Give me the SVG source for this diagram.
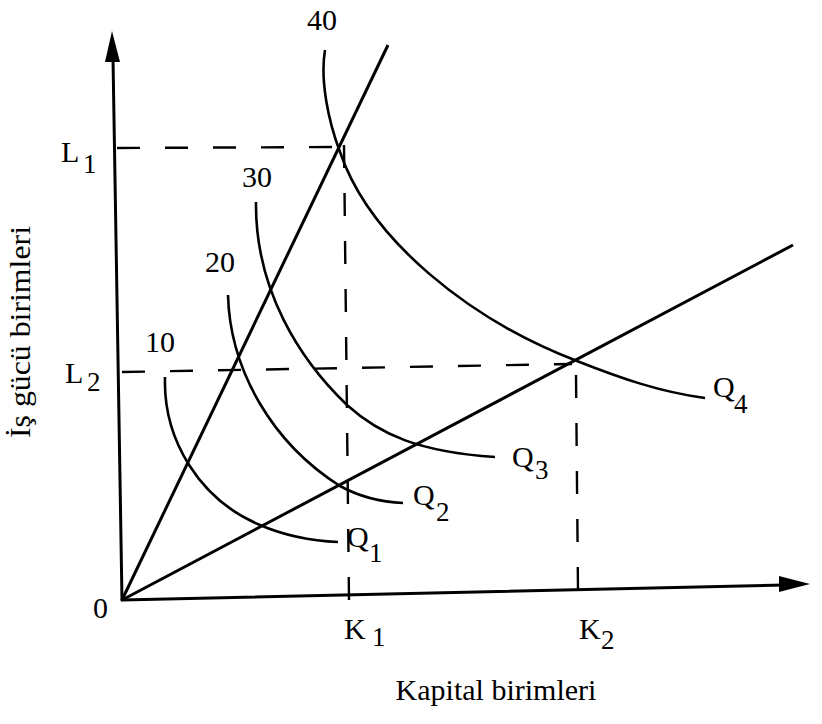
<svg xmlns="http://www.w3.org/2000/svg" width="822" height="724" viewBox="0 0 822 724">
<style>
.ax{stroke:#000;stroke-width:3;fill:none;stroke-linecap:round}
.ray{stroke:#000;stroke-width:3;fill:none}
.cv{stroke:#000;stroke-width:2.6;fill:none}
.dash{stroke:#000;stroke-width:2.4;fill:none;stroke-dasharray:23 25}
.t{font-family:"Liberation Serif","Times New Roman",serif;fill:#000;font-size:30px}
.s{font-family:"Liberation Serif","Times New Roman",serif;fill:#000;font-size:27px}
</style>
<rect width="822" height="724" fill="#fff"/>
<g id="axes">
<line class="ax" x1="122" y1="600" x2="113" y2="58"/>
<polygon points="112,31 105,62 120,62" fill="#000"/>
<line class="ax" x1="122" y1="600" x2="784" y2="585"/>
<polygon points="810,584 779,576 779,592" fill="#000"/>
</g>
<g id="guides">
<line class="dash" x1="117" y1="148" x2="340" y2="147"/>
<line class="dash" x1="122" y1="372" x2="572" y2="364"/>
<line class="dash" x1="344" y1="145" x2="349" y2="600"/>
<line class="dash" x1="576" y1="375" x2="578" y2="590"/>
</g>
<g id="rays">
<line class="ray" x1="122" y1="600" x2="388" y2="45"/>
<line class="ray" x1="122" y1="600" x2="793" y2="245"/>
</g>
<g id="Q1"><path class="cv" d="M165,377 C163,440 200,500 260,525 C290,538 315,541 338,542"/></g>
<g id="Q2"><path class="cv" d="M228,295 C230,370 272,443 340,486 C360,497 380,502 403,503"/></g>
<g id="Q3"><path class="cv" d="M256,202 C255,290 300,360 347,405 C380,435 420,452 495,457"/></g>
<g id="Q4"><path class="cv" d="M325,50 C320,80 328,120 340,152 C370,240 470,320 577,361 C620,378 660,392 705,398"/></g>
<g id="labels">
<text class="t" x="307" y="30">40</text>
<text class="t" x="242" y="187">30</text>
<text class="t" x="205" y="272">20</text>
<text class="t" x="145" y="352">10</text>
<text class="t" x="61" y="162">L</text><text class="s" x="83" y="173">1</text>
<text class="t" x="65" y="383">L</text><text class="s" x="87" y="391">2</text>
<text class="t" x="93" y="618">0</text>
<text class="t" x="344" y="639">K</text><text class="s" x="372" y="646">1</text>
<text class="t" x="579" y="639">K</text><text class="s" x="601" y="649">2</text>
<text class="t" x="713" y="397">Q</text><text class="s" x="734" y="413">4</text>
<text class="t" x="512" y="467">Q</text><text class="s" x="535" y="479">3</text>
<text class="t" x="413" y="505">Q</text><text class="s" x="436" y="521">2</text>
<text class="t" x="347" y="547">Q</text><text class="s" x="369" y="562">1</text>
<text class="t" x="496" y="700" text-anchor="middle" font-size="32">Kapital birimleri</text>
<text class="t" x="0" y="0" text-anchor="middle" font-size="28" textLength="212" lengthAdjust="spacingAndGlyphs" transform="translate(30,332) rotate(-90)">İş gücü birimleri</text>
</g>
</svg>
